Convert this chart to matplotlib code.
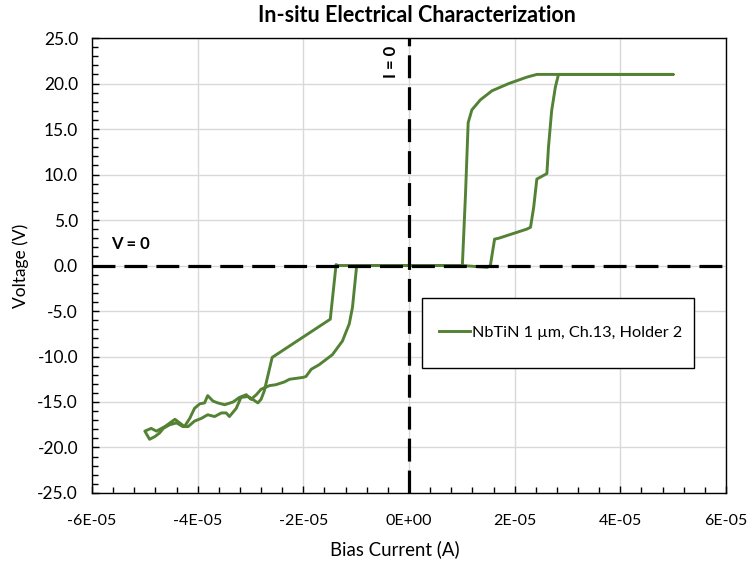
import numpy as np
import matplotlib
matplotlib.use('Agg')
import matplotlib.pyplot as plt
from matplotlib.ticker import MultipleLocator, FuncFormatter
from matplotlib.patches import Rectangle

plt.rcParams['font.family'] = ['Lato', 'DejaVu Sans']

# current in units of 1E-05 A, voltage in V
# positive sweep up
i_pos_up = [0.0, 0.5, 1.0, 1.48, 1.54, 1.62, 1.70, 2.23, 2.30, 2.36, 2.42, 2.61, 2.64, 2.70, 2.77, 2.83, 3.5, 4.0, 4.5, 5.0]
v_pos_up = [0.0, 0.0, 0.0, -0.2, 0.0, 2.9, 3.0, 4.0, 4.2, 6.4, 9.5, 10.1, 13.0, 17.0, 19.6, 21.0, 21.0, 21.0, 21.0, 21.0]
# positive sweep back down
i_pos_dn = [4.5, 3.5, 2.42, 2.23, 1.89, 1.57, 1.35, 1.19, 1.12, 1.07, 1.01, 0.5, 0.0, -0.5]
v_pos_dn = [21.0, 21.0, 21.0, 20.7, 20.0, 19.2, 18.2, 17.1, 15.7, 7.9, 0.0, 0.0, 0.0, 0.0]
# negative sweep
i_neg_dn = [-0.99, -1.07, -1.13, -1.26, -1.45, -1.70, -1.85, -1.95, -2.01, -2.26, -2.36, -2.52, -2.64, -2.80,
            -2.89, -2.99, -3.08, -3.21, -3.33, -3.49, -3.62, -3.71, -3.81, -3.87, -3.96, -4.06, -4.15, -4.25,
            -4.34, -4.43, -4.62, -4.78, -4.88, -5.0]
v_neg_dn = [0.0, -4.6, -6.4, -8.3, -9.8, -10.9, -11.4, -12.2, -12.3, -12.5, -12.8, -13.1, -13.2, -13.6,
            -14.2, -14.7, -14.2, -14.5, -15.0, -15.3, -15.1, -14.9, -14.3, -15.1, -15.2, -15.7, -16.8, -17.7,
            -17.3, -16.9, -17.7, -18.2, -17.9, -18.2]
# negative sweep back to zero
i_neg_up = [-4.91, -4.81, -4.72, -4.65, -4.53, -4.40, -4.28, -4.18, -4.06, -3.93, -3.81, -3.68, -3.55, -3.46,
            -3.40, -3.27, -3.18, -3.05, -2.96, -2.86, -2.80, -2.74, -2.59, -1.49, -1.38, -1.35, -1.0, -0.5, 0.0]
v_neg_up = [-19.1, -18.8, -18.4, -17.9, -17.5, -17.3, -17.7, -17.7, -17.1, -16.8, -16.4, -16.6, -16.2, -16.2,
            -16.6, -15.7, -14.5, -14.4, -14.7, -15.1, -14.7, -13.8, -10.1, -5.9, 0.1, 0.0, 0.0, 0.0, 0.0]

current = np.array(i_pos_up + i_pos_dn + i_neg_dn + i_neg_up) * 1e-5
voltage = np.array(v_pos_up + v_pos_dn + v_neg_dn + v_neg_up)

green = '#548235'

fig = plt.figure(figsize=(7.56, 5.70), dpi=100)
ax = fig.add_axes([0.1217, 0.1351, 0.8386, 0.7982])

ax.plot(current, voltage, color=green, lw=2.1, label='NbTiN 1 µm, Ch.13, Holder 2', zorder=3,
        solid_joinstyle='round')

lw = 2.3
ax.axhline(0, color='black', lw=lw, linestyle=(0, (16.5 / lw, 6.5 / lw)), zorder=4)
ax.axvline(0, color='black', lw=lw, linestyle=(0, (16.5 / lw, 6.5 / lw)), zorder=4)

ax.set_xlim(-6e-5, 6e-5)
ax.set_ylim(-25, 25)
ax.xaxis.set_major_locator(MultipleLocator(2e-5))
ax.xaxis.set_minor_locator(MultipleLocator(4e-6))
ax.yaxis.set_major_locator(MultipleLocator(5))
ax.yaxis.set_minor_locator(MultipleLocator(1))
ax.xaxis.set_major_formatter(FuncFormatter(lambda v, p: '{:.0E}'.format(0 if abs(v) < 1e-12 else v)))
ax.yaxis.set_major_formatter(FuncFormatter(lambda v, p: '{:.1f}'.format(0 if abs(v) < 1e-9 else v)))

ax.grid(True, which='major', color='#d9d9d9', lw=1)
ax.set_axisbelow(True)
ax.tick_params(which='both', direction='in', colors='black')
ax.tick_params(which='major', length=5, width=1)
ax.tick_params(which='minor', length=4, width=1)
ax.tick_params(axis='x', which='major', labelsize=11.5, pad=15)
ax.tick_params(axis='y', which='major', labelsize=12.5, pad=10)
for s in ax.spines.values():
    s.set_color('black')
    s.set_linewidth(1)

fig.text(417 / 756, 1 - 15 / 570, 'In-situ Electrical Characterization', fontsize=15.5, fontweight='bold',
         ha='center', va='center')
ax.set_xlabel('Bias Current (A)', fontsize=13.4, labelpad=9)
ax.xaxis.label.set_x((395 - 92) / 634)
ax.set_ylabel('Voltage (V)', fontsize=12.5, labelpad=6)

ax.text(-5.28e-5, 2.4, 'V = 0', fontsize=12, fontweight='bold', ha='center', va='center')
ax.text(-0.34e-5, 22.4, 'I = 0', fontsize=12, fontweight='bold', ha='center', va='center', rotation=90)

ax.add_patch(Rectangle((0.5205, 0.2747), 0.429, 0.154, transform=ax.transAxes, facecolor='white',
                       edgecolor='black', lw=1, zorder=5))
leg = ax.legend(loc='center', bbox_to_anchor=(0.5205 + 0.429 / 2 + 0.004, 0.2747 + 0.154 / 2), frameon=False,
                fontsize=11.7, handlelength=1.9, handletextpad=0.1)
leg.set_zorder(6)

fig.savefig('out.png', dpi=100)
